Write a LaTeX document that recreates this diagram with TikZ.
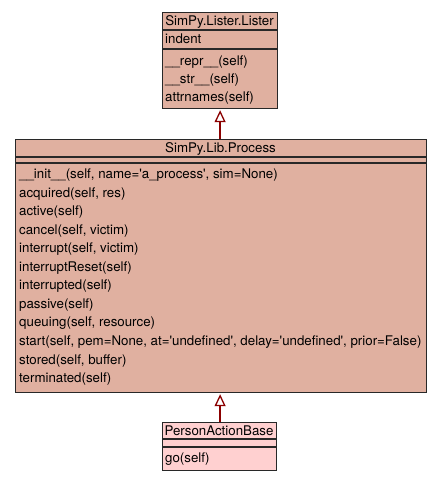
\documentclass[tikz,border=0pt]{standalone}
\usepackage{fontspec}
\setmainfont{TeX Gyre Heros}[Ligatures=TeXOff]
\usetikzlibrary{arrows.meta}
\definecolor{clsfill}{RGB}{224,176,160}
\definecolor{leaffill}{RGB}{255,208,208}
\definecolor{inhred}{RGB}{139,0,0}
\definecolor{edgegray}{RGB}{40,40,40}
\begin{document}
\begin{tikzpicture}[x=1pt,y=-1pt,
  box/.style={draw=edgegray, line width=1.2pt, inner sep=0pt, anchor=north west},
  divider/.style={draw=edgegray, line width=1.2pt},
  txt/.style={inner sep=0pt, anchor=base west, font=\fontsize{13.3}{16}\selectfont},
  ttl/.style={inner sep=0pt, anchor=base, font=\fontsize{13.3}{16}\selectfont},
  inh/.style={draw=inhred, line width=2pt, shorten >=1pt, -{Triangle[open, fill=white, length=12pt, width=11pt, line width=1.3pt]}}
]
\useasboundingbox (0,0) rectangle (440,480);
% top class
\node[box, fill=clsfill, minimum width=115pt, minimum height=96pt] (lister) at (162,12) {};
\draw[divider] (162,30) -- (277,30);
\draw[divider] (162,49) -- (277,49);
\node[ttl] (listerT) at (219.5,25.5) {SimPy.Lister.Lister};
\node[txt] (la1) at (165,43) {indent};
\node[txt] (lm1) at (165,65.5) {\_\_repr\_\_(self)};
\node[txt] (lm2) at (165,83.5) {\_\_str\_\_(self)};
\node[txt] (lm3) at (165,101.5) {attrnames(self)};
% middle class
\node[box, fill=clsfill, minimum width=411pt, minimum height=253pt] (proc) at (15,139) {};
\draw[divider] (15,157) -- (426,157);
\draw[divider] (15,163) -- (426,163);
\node[ttl] (procT) at (220.5,152) {SimPy.Lib.Process};
\foreach \m [count=\i from 0] in {
  {\_\_init\_\_(self, name='a\_process', sim=None)},
  {acquired(self, res)},
  {active(self)},
  {cancel(self, victim)},
  {interrupt(self, victim)},
  {interruptReset(self)},
  {interrupted(self)},
  {passive(self)},
  {queuing(self, resource)},
  {start(self, pem=None, at='undefined', delay='undefined', prior=False)},
  {stored(self, buffer)},
  {terminated(self)}}
  \node[txt] (pm\i) at (19,178.5+18.55*\i) {\m};
% bottom class
\node[box, fill=leaffill, minimum width=114pt, minimum height=48pt] (pab) at (162,422) {};
\draw[divider] (162,439) -- (276,439);
\draw[divider] (162,447) -- (276,447);
\node[ttl] (pabT) at (219,435) {PersonActionBase};
\node[txt] (pabm1) at (165,462) {go(self)};
% inheritance
\draw[inh] (proc.north -| lister.south) -- (lister.south);
\draw[inh] (pab.north -| lister.south) -- (proc.south -| lister.south);
\end{tikzpicture}
\end{document}
